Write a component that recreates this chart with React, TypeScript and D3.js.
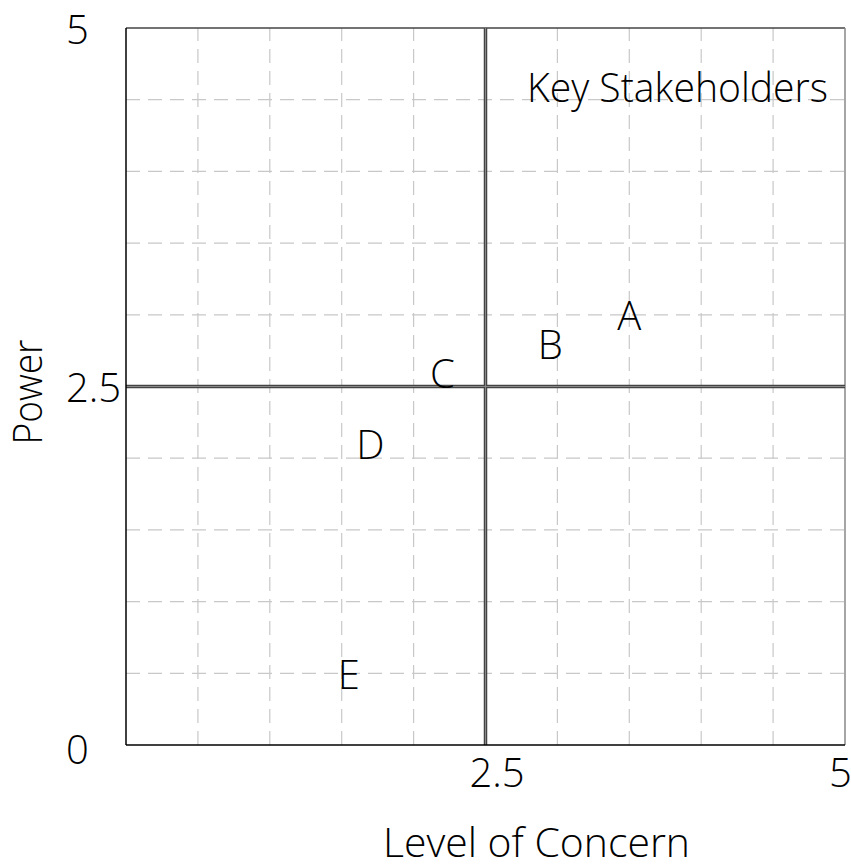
import React from "react";
import * as d3 from "d3";

const stakeholders = ["A", "B", "C", "D", "E"];
const concern = [3.5, 2.95, 2.2, 1.7, 1.55];
const power = [3.0, 2.8, 2.6, 2.1, 0.5];
const tickValues = [0, 2.5, 5];
const tickLabels = ["0", "2.5", "5"];
const gridValues = [0.5, 1, 1.5, 2, 3, 3.5, 4, 4.5];
const quadrantLabel = "Key Stakeholders";
const xTitle = "Level of Concern";
const yTitle = "Power";

const W = 851;
const H = 868;
const FONT = "'Open Sans', 'DejaVu Sans', sans-serif";

export default function App() {
  const xs = d3.scaleLinear().domain([0, 5]).range([126, 845]);
  const ys = d3.scaleLinear().domain([0, 5]).range([745, 28]);
  const fs = 40;
  return (
    <svg
      width={W}
      height={H}
      style={{ position: "absolute", left: 0, top: 0, background: "#fff" }}
      fontFamily={FONT}
      fontWeight={300}
    >
      {/* grid */}
      {gridValues.map((g) => (
        <g key={"g" + g}>
          <line x1={xs(g)} x2={xs(g)} y1={ys(0)} y2={ys(5)} stroke="#c8c8c8" strokeWidth={1.2} strokeDasharray="14,8" />
          <line x1={xs(0)} x2={xs(5)} y1={ys(g)} y2={ys(g)} stroke="#c8c8c8" strokeWidth={1.2} strokeDasharray="14,8" />
        </g>
      ))}
      {/* borders */}
      <line x1={xs(0)} x2={xs(5)} y1={ys(5)} y2={ys(5)} stroke="#444" strokeWidth={1.5} />
      <line x1={xs(5)} x2={xs(5)} y1={ys(0)} y2={ys(5)} stroke="#888" strokeWidth={1.5} />
      {/* quadrant lines */}
      <line x1={xs(2.5)} x2={xs(2.5)} y1={ys(0)} y2={ys(5)} stroke="#444" strokeWidth={3.5} />
      <line x1={xs(0)} x2={xs(5)} y1={ys(2.5)} y2={ys(2.5)} stroke="#444" strokeWidth={3.5} />
      <line x1={xs(2.5)} x2={xs(2.5)} y1={ys(0)} y2={ys(5)} stroke="#888" strokeWidth={1} />
      <line x1={xs(0)} x2={xs(5)} y1={ys(2.5)} y2={ys(2.5)} stroke="#888" strokeWidth={1} />
      {/* axes */}
      <line x1={xs(0)} x2={xs(0)} y1={ys(0)} y2={ys(5)} stroke="#000" strokeWidth={1.5} />
      <line x1={xs(0)} x2={xs(5)} y1={ys(0)} y2={ys(0)} stroke="#000" strokeWidth={1.5} />
      {/* y tick labels */}
      {tickValues.map((t, i) => (
        <text key={"yt" + t} x={66} y={ys(t) + (t === 0 ? 3 : 0)} fontSize={fs} dominantBaseline="central" fill="#000">
          {tickLabels[i]}
        </text>
      ))}
      {/* x tick labels */}
      {tickValues.slice(1).map((t, i) => (
        <text key={"xt" + t} x={xs(t) - 16} y={771} fontSize={fs} dominantBaseline="central" fill="#000">
          {tickLabels[i + 1]}
        </text>
      ))}
      {/* titles */}
      <text x={383} y={857} fontSize={fs} fill="#000" textLength={307} lengthAdjust="spacingAndGlyphs">{xTitle}</text>
      <text
        transform={`translate(42,${(340 + 445) / 2}) rotate(-90)`}
        x={-52}
        fontSize={fs}
        fill="#000"
        textLength={105}
        lengthAdjust="spacingAndGlyphs"
      >
        {yTitle}
      </text>
      <text x={527} y={ys(4.595)} dominantBaseline="central" fontSize={fs} fill="#000" textLength={301} lengthAdjust="spacingAndGlyphs">
        {quadrantLabel}
      </text>
      {/* points */}
      {stakeholders.map((s, i) => (
        <text key={s} x={xs(concern[i])} y={ys(power[i])} textAnchor="middle" dominantBaseline="central" fontSize={fs} fill="#000">
          {s}
        </text>
      ))}
    </svg>
  );
}
